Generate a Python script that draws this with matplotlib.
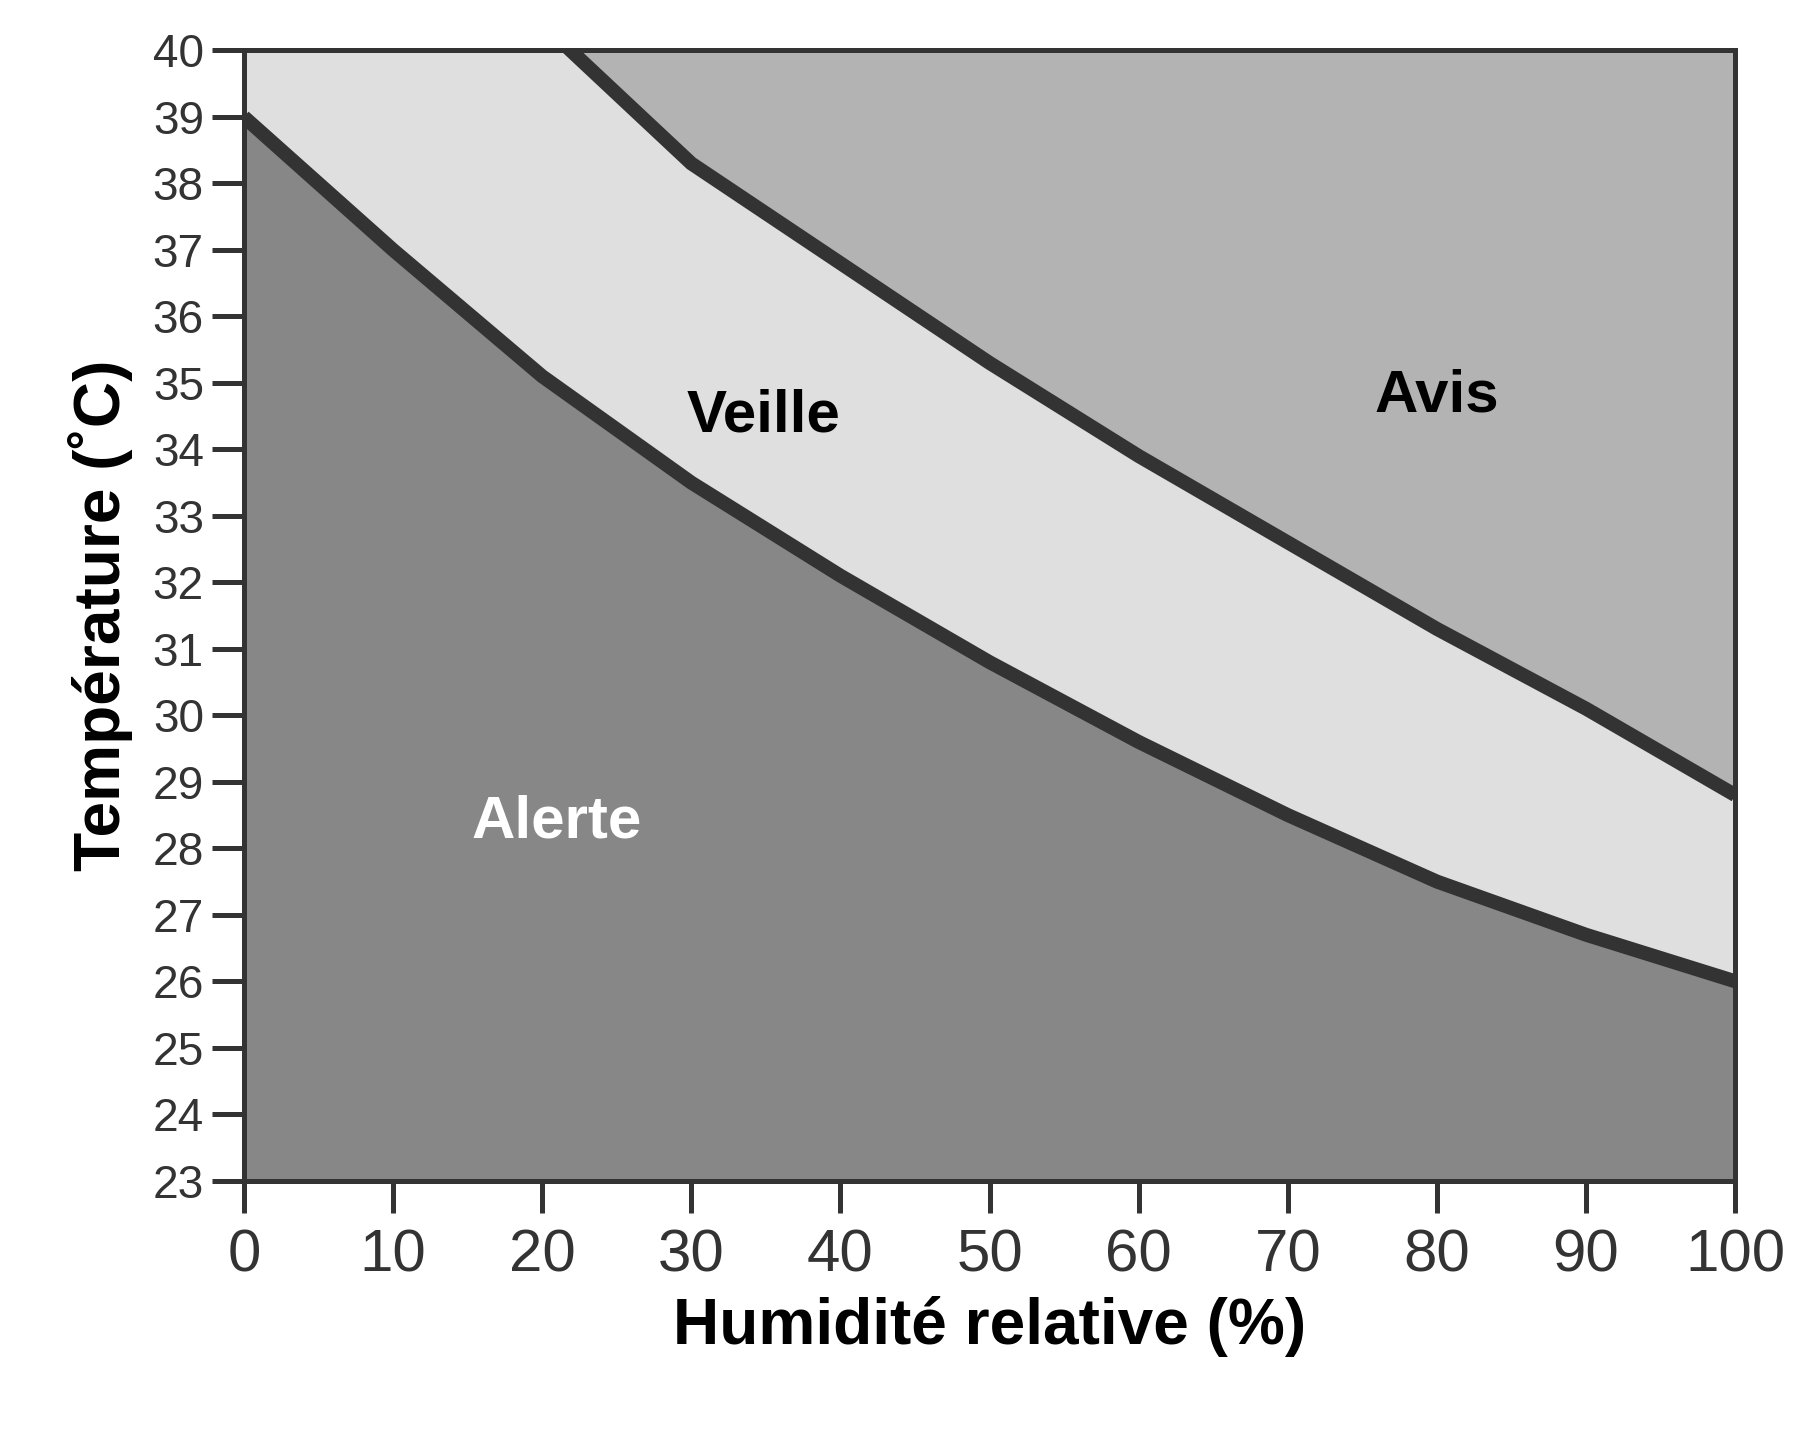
import numpy as np
import matplotlib
matplotlib.use('Agg')
import matplotlib.pyplot as plt

plt.rcParams['font.family'] = ['Liberation Sans', 'DejaVu Sans']

# seuils
hum = [0, 10, 20, 30, 40, 50, 60, 70, 80, 90, 100]
t_alerte = [39.0, 37.0, 35.1, 33.5, 32.1, 30.8, 29.6, 28.5, 27.5, 26.7, 26.0]
hum_avis = [20, 30, 40, 50, 60, 70, 80, 90, 100]
t_avis = [40.4, 38.3, 36.8, 35.3, 33.9, 32.6, 31.3, 30.1, 28.8]

c_alerte = '#878787'
c_veille = '#dfdfdf'
c_avis = '#b3b3b3'
c_line = '#333333'

fig = plt.figure(figsize=(12.5, 10), dpi=144)
ax = fig.add_axes([0.1355, 0.18, 0.8285, 0.785])

ax.set_facecolor(c_veille)
ax.fill_between(hum, 23, t_alerte, color=c_alerte, lw=0, zorder=1)
ax.fill_between(hum_avis, t_avis, 41, color=c_avis, lw=0, zorder=1)
ax.plot(hum, t_alerte, color=c_line, lw=7, zorder=2, solid_capstyle='butt')
ax.plot(hum_avis, t_avis, color=c_line, lw=7, zorder=2, solid_capstyle='butt')

ax.set_xlim(0, 100)
ax.set_ylim(23, 40)
ax.set_xticks(range(0, 101, 10))
ax.set_yticks(range(23, 41))
ax.tick_params(axis='x', labelsize=30, length=16, width=2.5, direction='out', colors='#333333', pad=8)
ax.tick_params(axis='y', labelsize=23, length=16, width=2.5, direction='out', colors='#333333', pad=4)
for s in ax.spines.values():
    s.set_linewidth(2.5)
    s.set_color('#333333')

ax.set_xlabel('Humidité relative (%)', fontsize=32, fontweight='bold', labelpad=6)
ax.set_ylabel('Température (˚C)', fontsize=32, fontweight='bold', labelpad=10)

ax.text(40, 34.5, 'Veille', fontsize=30, fontweight='bold', ha='right', va='center', zorder=3)
ax.text(80, 34.8, 'Avis', fontsize=30, fontweight='bold', ha='center', va='center', zorder=3)
ax.text(21, 28.4, 'Alerte', fontsize=30, fontweight='bold', ha='center', va='center', color='white', zorder=3)

plt.savefig('out.png', dpi=144)
